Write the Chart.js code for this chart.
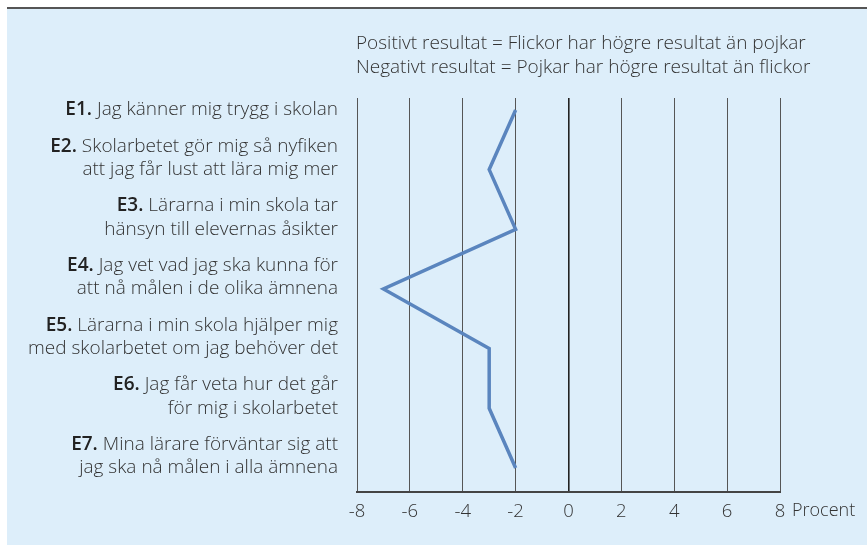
<!DOCTYPE html>
<html>
<head>
<meta charset="utf-8">
<script src="https://cdn.jsdelivr.net/npm/chart.js@4.4.1/dist/chart.umd.min.js"></script>
<style>
  html, body { margin: 0; padding: 0; background: #fff; }
  #wrap { width: 867px; height: 545px; }
</style>
</head>
<body>
<div id="wrap"><canvas id="chart" width="867" height="545"></canvas></div>
<script>
const prefixes = ['E1.', 'E2.', 'E3.', 'E4.', 'E5.', 'E6.', 'E7.'];
const labelLines = [
  ['Jag känner mig trygg i skolan'],
  ['Skolarbetet gör mig så nyfiken', 'att jag får lust att lära mig mer'],
  ['Lärarna i min skola tar', 'hänsyn till elevernas åsikter'],
  ['Jag vet vad jag ska kunna för', 'att nå målen i de olika ämnena'],
  ['Lärarna i min skola hjälper mig', 'med skolarbetet om jag behöver det'],
  ['Jag får veta hur det går', 'för mig i skolarbetet'],
  ['Mina lärare förväntar sig att', 'jag ska nå målen i alla ämnena']
];
const differences = [-2, -3, -2, -7, -3, -3, -2];
const noteLines = [
  'Positivt resultat = Flickor har högre resultat än pojkar',
  'Negativt resultat = Pojkar har högre resultat än flickor'
];
const unitLabel = 'Procent';

const FONT = '"Open Sans", sans-serif';
const TEXT = '#333';

const decor = {
  id: 'decor',
  beforeDraw(chart) {
    const ctx = chart.ctx;
    ctx.save();
    ctx.fillStyle = '#fff';
    ctx.fillRect(0, 0, chart.width, chart.height);
    ctx.fillStyle = '#ddeefa';
    ctx.fillRect(7, 9, chart.width - 7, chart.height - 9);
    ctx.fillStyle = '#555';
    ctx.fillRect(7, 7, chart.width - 7, 2);
    ctx.restore();
  },
  afterDraw(chart) {
    const ctx = chart.ctx;
    const x = chart.scales.x, y = chart.scales.y;
    ctx.save();
    ctx.fillStyle = TEXT;
    ctx.textBaseline = 'middle';
    // note above the plot
    ctx.font = '300 19px ' + FONT;
    ctx.textAlign = 'left';
    noteLines.forEach((t, i) => ctx.fillText(t, chart.chartArea.left - 1, 44 + i * 24));
    // unit after the last tick
    ctx.font = '300 18px ' + FONT;
    ctx.fillText(unitLabel, x.getPixelForValue(8) + 12, chart.chartArea.bottom + 19);
    // category labels, last line level with the point
    const right = chart.chartArea.left - 19;
    labelLines.forEach((lines, i) => {
      const py = y.getPixelForValue(i + 1);
      const n = lines.length;
      lines.forEach((line, k) => {
        const ly = py - (n - 1 - k) * 23.5;
        ctx.textAlign = 'right';
        ctx.font = '300 19px ' + FONT;
        ctx.fillStyle = TEXT;
        ctx.fillText(line, right, ly);
        if (k === 0) {
          const w = ctx.measureText(' ' + line).width;
          ctx.font = '600 19px ' + FONT;
          ctx.fillStyle = '#222';
          ctx.fillText(prefixes[i], right - w, ly);
        }
      });
    });
    ctx.restore();
  }
};

new Chart(document.getElementById('chart'), {
  type: 'line',
  data: {
    datasets: [{
      data: differences.map((v, i) => ({ x: v, y: i + 1 })),
      borderColor: '#5a85be',
      borderWidth: 3.5,
      pointRadius: 0,
      tension: 0,
      fill: false
    }]
  },
  options: {
    responsive: false,
    animation: false,
    indexAxis: 'y',
    layout: { padding: { left: 357, right: 87, top: 98, bottom: 13 } },
    plugins: { legend: { display: false }, tooltip: { enabled: false } },
    scales: {
      x: {
        type: 'linear',
        min: -8,
        max: 8,
        ticks: { stepSize: 2, color: TEXT, padding: 9, font: { family: FONT, size: 18.5, weight: '300' } },
        grid: {
          drawTicks: false,
          color: (c) => c.tick && c.tick.value === 0 ? '#222' : '#555',
          lineWidth: (c) => c.tick && c.tick.value === 0 ? 1.6 : 1
        },
        border: { display: true, color: '#444', width: 2 }
      },
      y: {
        type: 'linear',
        reverse: true,
        min: 0.8,
        max: 7.4,
        display: false
      }
    }
  },
  plugins: [decor]
});
</script>
</body>
</html>
